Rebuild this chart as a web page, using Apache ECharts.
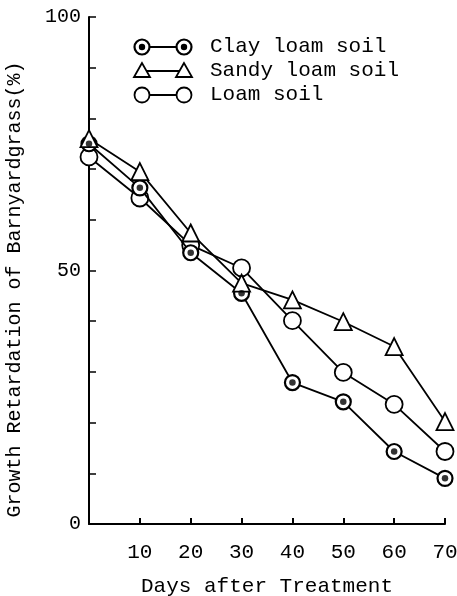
<!DOCTYPE html>
<html><head><meta charset="utf-8">
<script src="https://cdn.jsdelivr.net/npm/echarts@6/dist/echarts.min.js"></script>
<style>html,body{margin:0;padding:0;background:#fff}#c{width:457px;height:596px}</style>
</head><body><div id="c"></div>
<script>
const days = [0, 10, 20, 30, 40, 50, 60, 70];
const clayLoam = [75, 66.3, 53.5, 45.5, 27.9, 24.1, 14.3, 9.0];
const sandyLoam = [76, 69.5, 57.4, 47.5, 44.2, 39.9, 35, 20.2];
const loam = [72.4, 64.3, 55, 50.5, 40.1, 29.9, 23.6, 14.3];
const seriesNames = ['Clay loam soil', 'Sandy loam soil', 'Loam soil'];
const yLabels = [0, 50, 100];
const xLabels = [10, 20, 30, 40, 50, 60, 70];

const FONT = 'Liberation Mono';
const pairs = a => days.map((d, i) => [d, a[i]]);
const chart = echarts.init(document.getElementById('c'));

const legendItems = [];
const legY = [47, 71, 95];
const legSym = ['clay', 'tri', 'circ'];
function sym(kind, x, y) {
  if (kind === 'tri') {
    return {type: 'polygon', shape: {points: [[x, y - 8], [x - 8, y + 6], [x + 8, y + 6]]},
      style: {fill: '#fff', stroke: '#000', lineWidth: 1.8}, z: 10};
  }
  const g = [{type: 'circle', shape: {cx: x, cy: y, r: 7.5}, style: {fill: '#fff', stroke: '#000', lineWidth: kind === 'clay' ? 2.2 : 1.8}, z: 10}];
  if (kind === 'clay') g.push({type: 'circle', shape: {cx: x, cy: y, r: 3.2}, style: {fill: '#000'}, z: 11});
  return g;
}
for (let i = 0; i < 3; i++) {
  const y = legY[i];
  legendItems.push({type: 'line', shape: {x1: 142, y1: y, x2: 184, y2: y}, style: {stroke: '#000', lineWidth: 1.8}, z: 9});
  [].concat(sym(legSym[i], 142, y), sym(legSym[i], 184, y)).forEach(e => legendItems.push(e));
  legendItems.push({type: 'text', left: 210, top: y - 11, style: {text: seriesNames[i], font: '21px "' + FONT + '"', fill: '#000'}, z: 10});
}

chart.setOption({
  animation: false,
  backgroundColor: '#fff',
  grid: {left: 89, right: 12, top: 17, bottom: 72, containLabel: false, outerBoundsMode: 'none'},
  xAxis: {
    type: 'value', min: 0, max: 70, interval: 10,
    name: 'Days after Treatment', nameLocation: 'middle', nameGap: 52,
    nameTextStyle: {fontFamily: FONT, fontSize: 21, color: '#000'},
    axisLine: {lineStyle: {color: '#000', width: 2}},
    axisTick: {inside: true, length: 6, lineStyle: {color: '#000', width: 2}},
    axisLabel: {fontFamily: FONT, fontSize: 21, color: '#000', margin: 18,
      formatter: v => xLabels.includes(v) ? String(v) : ''},
    splitLine: {show: false}
  },
  yAxis: {
    type: 'value', min: 0, max: 100, interval: 10,
    name: 'Growth Retardation of Barnyardgrass(%)', nameLocation: 'middle', nameGap: 64,
    nameTextStyle: {fontFamily: FONT, fontSize: 20, color: '#000', padding: [0, 0, 0, -38]},
    axisLine: {lineStyle: {color: '#000', width: 2}},
    axisTick: {inside: true, length: 7, lineStyle: {color: '#000', width: 1.5}},
    axisLabel: {fontFamily: FONT, fontSize: 20, color: '#000', margin: 8,
      formatter: v => yLabels.includes(v) ? String(v) : ''},
    splitLine: {show: false}
  },
  graphic: legendItems,
  series: [
    {name: seriesNames[0], type: 'line', data: pairs(clayLoam), symbol: 'circle', symbolSize: 15,
      itemStyle: {color: '#fff', borderColor: '#000', borderWidth: 2.2},
      lineStyle: {color: '#000', width: 1.8}, z: 3},
    {name: seriesNames[0] + ' dot', type: 'scatter', data: pairs(clayLoam), symbol: 'circle', symbolSize: 6.5,
      itemStyle: {color: '#000'}, z: 6},
    {name: seriesNames[1], type: 'line', data: pairs(sandyLoam), symbol: 'triangle', symbolSize: 17,
      itemStyle: {color: '#fff', borderColor: '#000', borderWidth: 1.8},
      lineStyle: {color: '#000', width: 1.8}, z: 4},
    {name: seriesNames[2], type: 'line', data: pairs(loam), symbol: 'circle', symbolSize: 17,
      itemStyle: {color: '#fff', borderColor: '#000', borderWidth: 1.8},
      lineStyle: {color: '#000', width: 1.8}, z: 2}
  ]
});
</script></body></html>
